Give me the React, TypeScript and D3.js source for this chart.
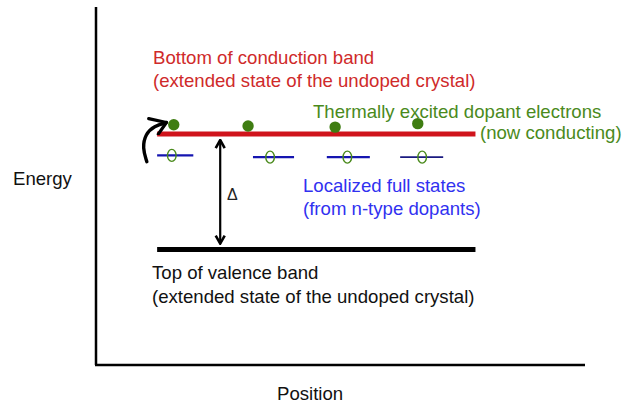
import React from 'react';
import * as d3 from 'd3';

// band diagram values (position: arbitrary 0-100, energy: gap = 1)
const bandLevels = [1.0, 0];
const bandSpan = [12.5, 77.6];
const electronPos = [15.9, 31.1, 48.9, 65.8];
const electronEnergy = [1.08, 1.07, 1.06, 1.09];
const dopantPos = [16.2, 36.3, 51.6, 66.6];
const dopantWidth = [7.4, 8.4, 8.8, 8.8];
const dopantEnergy = [0.815, 0.8, 0.8, 0.8];
const holePos = [15.5, 35.6, 51.4, 66.7];
const gapArrowPos = 25.4;
const hopArrow: [number, number][] = [
  [10.4, 0.76],
  [9.5, 0.88],
  [10.1, 1.0],
  [11.9, 1.07],
  [14.4, 1.1],
];

const conductionLabel = ['Bottom of conduction band', '(extended state of the undoped crystal)'];
const valenceLabel = ['Top of valence band', '(extended state of the undoped crystal)'];
const electronLabel = ['Thermally excited dopant electrons', '(now conducting)'];
const dopantLabel = ['Localized full states', '(from n-type dopants)'];

const width = 631;
const height = 409;
const font = '"Liberation Sans", Arial, Helvetica, sans-serif';
const fs = 18.6;

export default function App() {
  const x = d3.scaleLinear().domain([0, 100]).range([96, 585]);
  const y = d3.scaleLinear().domain([-1, 2.1]).range([365, 7]);

  const red = '#d0141c';
  const redText = '#cf2a2a';
  const green = '#4a8a1c';
  const blueText = '#3131f0';

  const curve = d3
    .line<[number, number]>()
    .x((d) => x(d[0]))
    .y((d) => y(d[1]))
    .curve(d3.curveBasis)(hopArrow);

  return (
    <div style={{ position: 'absolute', left: 0, top: 0 }}>
      <svg width={width} height={height} style={{ display: 'block', background: '#fff' }}>
        <defs>
          <marker id="head" viewBox="0 0 12 12" refX="11" refY="6" markerWidth="12" markerHeight="12" markerUnits="userSpaceOnUse" orient="auto-start-reverse">
            <path d="M3,1.5 L11,6 L3,10.5" fill="none" stroke="#000" strokeWidth="2.6" strokeLinejoin="miter" />
          </marker>
          <marker id="bighead" viewBox="0 0 20 20" refX="18" refY="10" markerWidth="20" markerHeight="20" markerUnits="userSpaceOnUse" orient="auto">
            <path d="M2,1.5 L18,10 L7,19" fill="none" stroke="#000" strokeWidth="3.2" strokeLinecap="round" strokeLinejoin="round" />
          </marker>
        </defs>

        {/* axes */}
        <line x1={x(0)} x2={x(0)} y1={y(2.1)} y2={y(-1)} stroke="#000" strokeWidth={2.5} />
        <line x1={x(0) - 1} x2={x(100)} y1={y(-1)} y2={y(-1)} stroke="#000" strokeWidth={2.5} />
        <text x={13} y={185} fontFamily={font} fontSize={fs} fill="#111">Energy</text>
        <text x={277} y={400} fontFamily={font} fontSize={fs} fill="#111">Position</text>

        {/* bands */}
        {bandLevels.map((e, i) => (
          <line
            key={i}
            x1={x(bandSpan[0])}
            x2={x(bandSpan[1])}
            y1={y(e)}
            y2={y(e)}
            stroke={i === 0 ? red : '#000'}
            strokeWidth={5}
          />
        ))}

        {/* dopant levels */}
        {dopantPos.map((p, i) => (
          <line
            key={i}
            x1={x(p - dopantWidth[i] / 2)}
            x2={x(p + dopantWidth[i] / 2)}
            y1={y(dopantEnergy[i])}
            y2={y(dopantEnergy[i])}
            stroke={i === 3 ? '#1a1a80' : '#1515b0'}
            strokeWidth={i === 3 ? 1.8 : 2.4}
          />
        ))}
        {holePos.map((p, i) => (
          <ellipse key={i} cx={x(p)} cy={y(dopantEnergy[i])} rx={4.3} ry={6} fill="none" stroke={green} strokeWidth={1.4} />
        ))}

        {/* excited electrons */}
        {electronPos.map((p, i) => (
          <circle key={i} cx={x(p)} cy={y(electronEnergy[i])} r={5.7} fill="#3f7d12" />
        ))}

        {/* gap arrow */}
        <line
          x1={x(gapArrowPos)}
          x2={x(gapArrowPos)}
          y1={y(bandLevels[0]) + 6}
          y2={y(bandLevels[1]) - 6}
          stroke="#000"
          strokeWidth={2.2}
          markerStart="url(#head)"
          markerEnd="url(#head)"
        />
        <text x={227} y={200} fontFamily={font} fontSize={16} fill="#222">Δ</text>

        {/* hop arrow */}
        <path d={curve ?? ''} fill="none" stroke="#000" strokeWidth={3.4} strokeLinecap="round" markerEnd="url(#bighead)" />

        {/* labels */}
        {conductionLabel.map((t, i) => (
          <text key={i} x={153} y={64 + i * 23} fontFamily={font} fontSize={fs} fill={redText}>{t}</text>
        ))}
        <text x={313} y={118} fontFamily={font} fontSize={fs} fill={green}>{electronLabel[0]}</text>
        <text x={480} y={139} fontFamily={font} fontSize={fs} fill={green}>{electronLabel[1]}</text>
        {dopantLabel.map((t, i) => (
          <text key={i} x={303} y={192 + i * 23} fontFamily={font} fontSize={fs} fill={blueText}>{t}</text>
        ))}
        {valenceLabel.map((t, i) => (
          <text key={i} x={152} y={279 + i * 24} fontFamily={font} fontSize={fs} fill="#111">{t}</text>
        ))}
      </svg>
    </div>
  );
}
